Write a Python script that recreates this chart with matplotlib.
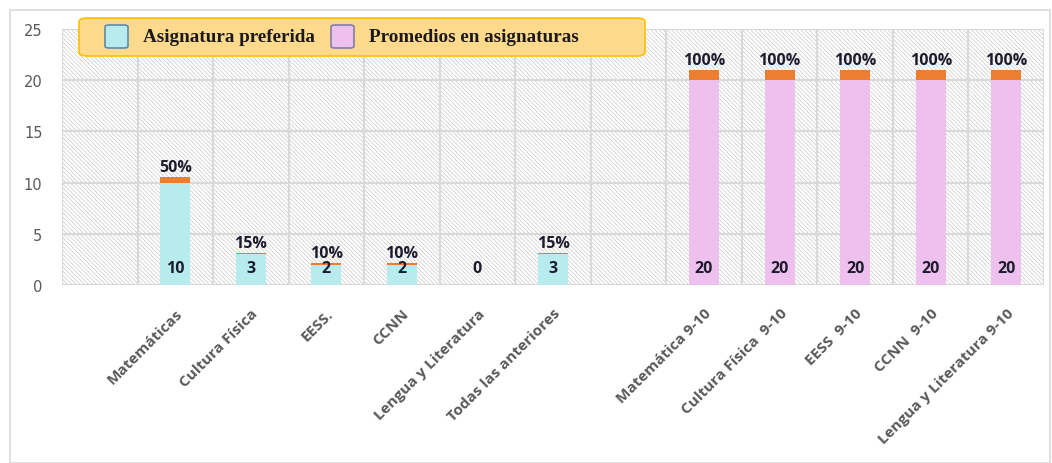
import numpy as np
import matplotlib.pyplot as plt
from matplotlib.patches import Rectangle, FancyBboxPatch

categorias = ["", "Matemáticas", "Cultura Física", "EESS.", "CCNN", "Lengua y Literatura",
              "Todas las anteriores", "", "Matemática 9-10", "Cultura Física  9-10",
              "EESS  9-10", "CCNN  9-10", "Lengua y Literatura 9-10"]
preferida = [np.nan, 10, 3, 2, 2, 0, 3, np.nan, np.nan, np.nan, np.nan, np.nan, np.nan]
promedios = [np.nan, np.nan, np.nan, np.nan, np.nan, np.nan, np.nan, np.nan, 20, 20, 20, 20, 20]
porcentaje = [np.nan, 0.50, 0.15, 0.10, 0.10, 0, 0.15, np.nan, 1.0, 1.0, 1.0, 1.0, 1.0]
leyenda = ["Asignatura preferida", "Promedios en asignaturas"]

c_cyan = '#B8EBEE'
c_pink = '#EEC0EE'
c_orange = '#ED7D31'
gris = '#595959'

plt.rcParams['hatch.linewidth'] = 0.5
plt.rcParams['hatch.color'] = '#C8C8C8'

W, H = 1052, 464
fig = plt.figure(figsize=(W/100, H/100), dpi=100)
ax = fig.add_axes([62/W, 1-286/H, (1044-62)/W, (286-30)/H])

# outer chart frame
fig.patches.append(Rectangle((10/W, 0), 1040/W, 1-11/H, transform=fig.transFigure,
                             fill=False, edgecolor='#D9D9D9', lw=1.2, zorder=0))

x = np.arange(len(categorias))
ax.set_xlim(-0.5, len(categorias) - 0.5)
ax.set_ylim(0, 25)

# hatched background
ax.add_patch(Rectangle((-0.5, 0), len(categorias), 25, facecolor='white', edgecolor='#C8C8C8',
                       hatch='\\' * 8, lw=0, zorder=0))

for xi in np.arange(-0.5, len(categorias), 1):
    ax.axvline(xi, color='#D9D9D9', lw=1.5, zorder=1)
for yi in range(0, 26, 5):
    ax.axhline(yi, color='#D9D9D9', lw=1.5, zorder=1)

w = 0.4
pref = np.array(preferida, dtype=float)
prom = np.array(promedios, dtype=float)
pct = np.array(porcentaje, dtype=float)
base = np.where(np.isnan(pref), prom, pref)

ax.bar(x, pref, width=w, color=c_cyan, zorder=2)
ax.bar(x, prom, width=w, color=c_pink, zorder=2)
ax.bar(x, pct, width=w, bottom=base, color=c_orange, zorder=2)

for xi, b, p in zip(x, base, pct):
    if np.isnan(b):
        continue
    ax.annotate(f"{int(b)}", (xi, 0), xytext=(0, 12.5), textcoords='offset points',
                ha='center', va='center', fontsize=11.5, fontweight='bold', color='#1C1C2E',
                family='Open Sans', zorder=3)
    if p > 0:
        ax.annotate(f"{p:.0%}", (xi, b + p), xytext=(0, 1.5), textcoords='offset points',
                    ha='center', va='bottom', fontsize=11.5, fontweight='bold', color='#1C1C2E',
                    family='Open Sans', zorder=3)

for s in ax.spines.values():
    s.set_visible(False)
ax.tick_params(length=0)
ax.set_yticks(range(0, 26, 5))
ax.tick_params(axis='y', colors=gris, labelsize=10.5, pad=14)
ax.set_xticks(x)
ax.set_xticklabels(categorias, rotation=45, ha='right', rotation_mode='anchor',
                   fontsize=11, fontweight='bold', color=gris, family='Open Sans')
ax.tick_params(axis='x', pad=15)

# legend box drawn by hand (figure pixels)
px = lambda v: v / W
py = lambda v: 1 - v / H
fig.patches.append(FancyBboxPatch((px(79), py(57)), px(645) - px(79), py(19) - py(57),
                                  boxstyle='round,pad=0,rounding_size=0.008',
                                  transform=fig.transFigure, facecolor='#FFD98C',
                                  edgecolor='#FFC000', lw=1.2, zorder=5))
for (hx, tx), color, edge, label in zip([(105, 143), (331, 369)], [c_cyan, c_pink],
                                        ['#5B8DA8', '#7F7FA8'], leyenda):
    fig.patches.append(FancyBboxPatch((px(hx), py(49)), px(hx + 23) - px(hx), py(26) - py(49),
                                      boxstyle='round,pad=0,rounding_size=0.004',
                                      transform=fig.transFigure, facecolor=color,
                                      edgecolor=edge, lw=1.2, zorder=6))
    fig.text(px(tx), py(38), label, ha='left', va='center', family='Liberation Serif',
             fontweight='bold', fontsize=13.8, color='#1A1A1A', zorder=7)

fig.savefig('out.png', dpi=100)
